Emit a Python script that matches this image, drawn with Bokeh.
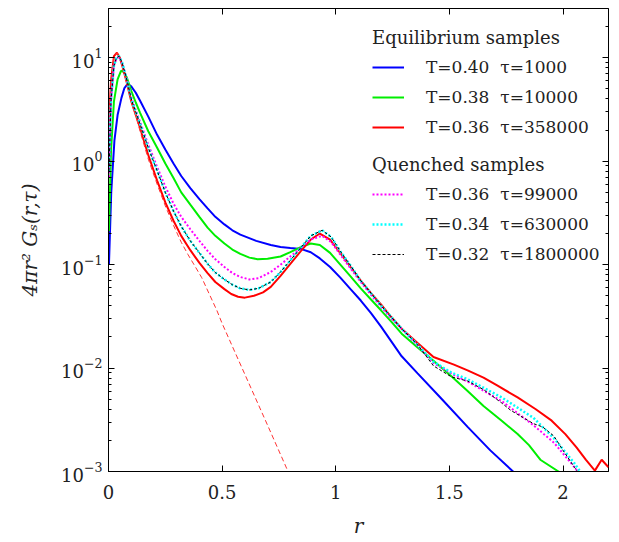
from bokeh.plotting import figure
from bokeh.models import (Range1d, Legend, LegendItem, LinearAxis, LogAxis,
                          FixedTicker)
from bokeh.embed import file_html
from bokeh.resources import INLINE

# ---- data ----
r_blue = [0.002, 0.012, 0.026, 0.04, 0.057, 0.07, 0.084, 0.10, 0.12, 0.139, 0.175, 0.214, 0.25,
          0.286, 0.32, 0.36, 0.40, 0.436, 0.47, 0.51, 0.545, 0.58, 0.65, 0.714, 0.757, 0.80,
          0.846, 0.89, 0.93, 0.975, 1.02, 1.065, 1.11, 1.155, 1.20, 1.245, 1.29, 1.36, 1.46,
          1.58, 1.68, 1.78, 1.80]
g_blue = [0.1, 0.5, 1.58, 2.8, 4.1, 5.1, 5.6, 5.3, 4.6, 3.85, 2.7, 1.8, 1.3,
          0.95, 0.72, 0.55, 0.43, 0.35, 0.29, 0.245, 0.215, 0.195, 0.17, 0.155, 0.148, 0.145,
          0.142, 0.132, 0.115, 0.095, 0.075, 0.058, 0.045, 0.034, 0.025, 0.018, 0.013, 0.0089, 0.0052,
          0.0027, 0.0016, 0.001, 0.0009]

r_green = [0.002, 0.011, 0.024, 0.04, 0.055, 0.068, 0.08, 0.10, 0.12, 0.139, 0.175, 0.214, 0.25,
           0.286, 0.32, 0.36, 0.40, 0.436, 0.47, 0.51, 0.545, 0.58, 0.62, 0.656, 0.70, 0.757,
           0.80, 0.846, 0.89, 0.93, 0.975, 1.02, 1.065, 1.11, 1.155, 1.20, 1.245, 1.29, 1.36,
           1.43, 1.51, 1.58, 1.65, 1.73, 1.80, 1.85, 1.90, 1.98, 2.0]
g_green = [0.21, 1.26, 3.8, 6.2, 7.5, 7.3, 6.5, 4.8, 3.7, 2.94, 1.95, 1.35, 0.95,
           0.69, 0.5, 0.38, 0.29, 0.228, 0.19, 0.16, 0.14, 0.127, 0.117, 0.113, 0.114, 0.12,
           0.132, 0.148, 0.16, 0.155, 0.13, 0.1, 0.077, 0.059, 0.046, 0.036, 0.028, 0.0215, 0.0158,
           0.0118, 0.0083, 0.006, 0.0043, 0.0031, 0.0023, 0.0018, 0.0013, 0.001, 0.0009]

r_red = [0.002, 0.011, 0.024, 0.037, 0.05, 0.06, 0.08, 0.10, 0.12, 0.139, 0.175, 0.214, 0.25,
         0.286, 0.32, 0.36, 0.40, 0.436, 0.47, 0.51, 0.54, 0.57, 0.60, 0.64, 0.68, 0.714,
         0.757, 0.80, 0.846, 0.89, 0.93, 0.975, 1.02, 1.065, 1.11, 1.155, 1.20, 1.245, 1.29,
         1.36, 1.43, 1.52, 1.58, 1.65, 1.71, 1.80, 1.88, 1.95, 2.01, 2.06, 2.10, 2.12, 2.14,
         2.17, 2.2]
g_red = [2.2, 6.0, 10.4, 11.2, 10.0, 8.5, 5.8, 3.8, 2.8, 2.1, 1.15, 0.65, 0.4,
         0.266, 0.19, 0.138, 0.104, 0.083, 0.068, 0.058, 0.052, 0.049, 0.048, 0.05, 0.054, 0.061,
         0.078, 0.102, 0.135, 0.175, 0.2, 0.175, 0.129, 0.095, 0.07, 0.053, 0.041, 0.031, 0.024,
         0.0175, 0.0128, 0.0108, 0.0095, 0.0081, 0.0068, 0.0052, 0.004, 0.0031, 0.0023, 0.0017, 0.0013, 0.00115, 0.00102,
         0.0013, 0.0011]

r_fit = [0.002, 0.011, 0.024, 0.037, 0.05, 0.06, 0.08, 0.10, 0.12, 0.139, 0.175, 0.214, 0.25,
         0.286, 0.32, 0.35, 0.38, 0.41, 0.477, 0.5, 0.6, 0.7, 0.79, 0.82]
g_fit = [2.2, 6.0, 10.4, 11.2, 10.0, 8.5, 5.8, 3.8, 2.75, 1.95, 1.05, 0.6, 0.37,
         0.24, 0.165, 0.125, 0.097, 0.075, 0.036, 0.027, 0.0087, 0.0028, 0.001, 0.0007]

r_mag = [0.002, 0.011, 0.024, 0.035, 0.046, 0.06, 0.07, 0.085, 0.10, 0.12, 0.139, 0.175, 0.214,
         0.25, 0.286, 0.32, 0.36, 0.40, 0.436, 0.47, 0.51, 0.545, 0.58, 0.62, 0.66, 0.714,
         0.757, 0.80, 0.846, 0.89, 0.94, 0.98, 1.02, 1.065, 1.11, 1.155, 1.20, 1.245, 1.29,
         1.36, 1.43, 1.51, 1.58, 1.73, 1.87, 1.96, 2.05, 2.08]
g_mag = [0.7, 3.8, 8.4, 9.8, 10.2, 8.9, 7.5, 5.7, 4.2, 3.1, 2.4, 1.45, 0.88,
         0.57, 0.39, 0.29, 0.22, 0.17, 0.136, 0.113, 0.095, 0.083, 0.076, 0.072, 0.074, 0.085,
         0.1, 0.12, 0.145, 0.175, 0.19, 0.165, 0.125, 0.092, 0.068, 0.051, 0.039, 0.03, 0.024,
         0.0165, 0.0112, 0.0088, 0.0074, 0.0048, 0.0028, 0.0019, 0.0011, 0.0009]

r_cyan = [0.002, 0.011, 0.024, 0.035, 0.046, 0.06, 0.07, 0.085, 0.10, 0.12, 0.139, 0.175, 0.214,
          0.25, 0.286, 0.32, 0.36, 0.40, 0.436, 0.47, 0.51, 0.545, 0.58, 0.62, 0.66, 0.714,
          0.757, 0.80, 0.846, 0.89, 0.94, 0.98, 1.02, 1.065, 1.11, 1.155, 1.20, 1.245, 1.29,
          1.36, 1.43, 1.51, 1.58, 1.73, 1.87, 1.96, 2.05, 2.09]
g_cyan = [0.8, 3.8, 8.4, 10.0, 10.4, 9.0, 7.5, 5.6, 4.0, 3.0, 2.3, 1.35, 0.81,
          0.5, 0.33, 0.235, 0.17, 0.13, 0.102, 0.084, 0.072, 0.064, 0.059, 0.057, 0.059, 0.068,
          0.085, 0.11, 0.146, 0.19, 0.215, 0.185, 0.135, 0.098, 0.07, 0.053, 0.04, 0.031, 0.024,
          0.0168, 0.0115, 0.009, 0.0078, 0.0052, 0.0033, 0.0021, 0.0012, 0.0009]

r_black = [0.002, 0.011, 0.024, 0.035, 0.046, 0.06, 0.07, 0.085, 0.10, 0.12, 0.139, 0.175, 0.214,
           0.25, 0.286, 0.32, 0.36, 0.40, 0.436, 0.47, 0.51, 0.545, 0.58, 0.62, 0.66, 0.714,
           0.757, 0.80, 0.846, 0.89, 0.94, 0.98, 1.02, 1.065, 1.11, 1.155, 1.20, 1.245, 1.29,
           1.36, 1.43, 1.51, 1.58, 1.65, 1.73, 1.77, 1.87, 1.91, 1.96, 2.0, 2.05, 2.08]
g_black = [0.8, 3.8, 8.4, 10.0, 10.4, 9.0, 7.5, 5.6, 4.0, 3.0, 2.3, 1.35, 0.81,
           0.5, 0.33, 0.235, 0.17, 0.13, 0.102, 0.084, 0.072, 0.064, 0.059, 0.057, 0.059, 0.068,
           0.085, 0.11, 0.146, 0.19, 0.215, 0.185, 0.135, 0.098, 0.07, 0.053, 0.04, 0.031, 0.024,
           0.0168, 0.0105, 0.0082, 0.0075, 0.0062, 0.0046, 0.0039, 0.0029, 0.0027, 0.0022, 0.0016, 0.0011, 0.0009]

x_ticks = [0, 0.5, 1, 1.5, 2]
y_decades = [1e-3, 1e-2, 1e-1, 1e0, 1e1]
y_minor = [m * d for d in y_decades for m in range(2, 10) if m * d <= 30]

eq_title = "Equilibrium samples"
q_title = "Quenched samples"
labels = ["T=0.40  τ=1000", "T=0.38  τ=10000", "T=0.36  τ=358000",
          "T=0.36  τ=99000", "T=0.34  τ=630000", "T=0.32  τ=1800000"]

FONT = "DejaVu Serif"
FS = "18px"
FS_LEG = "17px"

p = figure(width=618, height=542, x_range=Range1d(0, 2.2), y_range=Range1d(1e-3, 30),
           y_axis_type="log", output_backend="svg", toolbar_location=None,
           min_border_left=108, min_border_right=10, min_border_top=8, min_border_bottom=71)
p.xgrid.visible = False
p.ygrid.visible = False
p.outline_line_color = "black"
p.outline_line_width = 1
p.background_fill_color = "white"
p.border_fill_color = "white"

rb = p.line(r_blue, g_blue, line_color="#0000ff", line_width=2)
rg = p.line(r_green, g_green, line_color="#00ee00", line_width=2)
rr = p.line(r_red, g_red, line_color="#ff0000", line_width=2)
p.line(r_fit, g_fit, line_color="#ff3333", line_width=1, line_dash="5 3")
rm = p.line(r_mag, g_mag, line_color="#ff00ff", line_width=2, line_dash="2 2")
rc = p.line(r_cyan, g_cyan, line_color="#00ffff", line_width=2.5, line_dash="2 2")
rk = p.line(r_black, g_black, line_color="#000000", line_width=1, line_dash="3 2")

# axes styling
xa = p.xaxis[0]
xa.ticker = FixedTicker(ticks=x_ticks, minor_ticks=[])
ya = p.yaxis[0]
for ax in (xa, ya):
    ax.major_tick_in = 6
    ax.major_tick_out = 0
    ax.minor_tick_in = 3
    ax.minor_tick_out = 0
    ax.major_label_text_font = FONT
    ax.major_label_text_font_size = FS
    ax.major_label_text_color = "#222222"
    ax.axis_label_text_font = FONT
    ax.axis_label_text_font_size = "20px"
    ax.axis_label_text_font_style = "italic"
    ax.axis_label_text_color = "#222222"
    ax.axis_line_color = "black"
xa.major_label_standoff = 13
ya.major_label_standoff = 6
xa.axis_label = "r"
ya.axis_label = "4πr² Gₛ(r,τ)"
xa.axis_label_standoff = 12
ya.axis_label_standoff = 16

# mirror ticks (minor-only tickers so that no labels are drawn)
top = LinearAxis(ticker=FixedTicker(ticks=[], minor_ticks=x_ticks),
                 major_tick_in=0, major_tick_out=0, minor_tick_in=6, minor_tick_out=0,
                 minor_tick_line_color="black", axis_line_color=None)
p.add_layout(top, "above")
right1 = LogAxis(ticker=FixedTicker(ticks=[], minor_ticks=y_decades),
                 major_tick_in=0, major_tick_out=0, minor_tick_in=6, minor_tick_out=0,
                 minor_tick_line_color="black", axis_line_color=None)
p.add_layout(right1, "right")
right2 = LogAxis(ticker=FixedTicker(ticks=[], minor_ticks=y_minor),
                 major_tick_in=0, major_tick_out=0, minor_tick_in=3, minor_tick_out=0,
                 minor_tick_line_color="black", axis_line_color=None)
p.add_layout(right2, "right")

def make_legend(title, items, loc):
    lg = Legend(title=title, items=items, location=loc)
    lg.title_text_font = FONT
    lg.title_text_font_size = FS
    lg.title_text_font_style = "normal"
    lg.title_text_color = "#222222"
    lg.title_standoff = 5
    lg.label_text_font = FONT
    lg.label_text_font_size = FS_LEG
    lg.label_text_color = "#222222"
    lg.glyph_width = 32
    lg.glyph_height = 28
    lg.label_height = 28
    lg.label_standoff = 22
    lg.spacing = 2
    lg.padding = 5
    lg.border_line_color = None
    lg.background_fill_alpha = 0
    return lg

leg1 = make_legend(eq_title, [LegendItem(label=labels[0], renderers=[rb]),
                              LegendItem(label=labels[1], renderers=[rg]),
                              LegendItem(label=labels[2], renderers=[rr])], (264, 330))
leg2 = make_legend(q_title, [LegendItem(label=labels[3], renderers=[rm]),
                             LegendItem(label=labels[4], renderers=[rc]),
                             LegendItem(label=labels[5], renderers=[rk])], (264, 203))
p.add_layout(leg1, "center")
p.add_layout(leg2, "center")

open("out.html", "w").write(file_html(p, INLINE))
